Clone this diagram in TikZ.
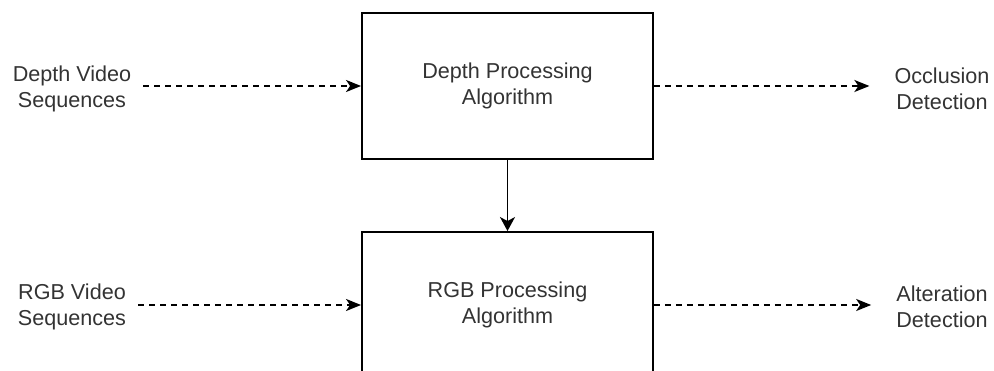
\documentclass[tikz,border=0pt]{standalone}
\usepackage{fontspec}
\setmainfont{Liberation Sans}
\usetikzlibrary{arrows.meta}
\definecolor{txtgray}{rgb}{0.2,0.2,0.2}

\tikzset{
  procbox/.style={draw, line width=1.9pt, minimum width=291pt, minimum height=146pt, align=center, text=txtgray, font=\fontsize{21.6}{25.5}\selectfont},
  txtlabel/.style={align=center, inner xsep=12pt, text=txtgray, font=\fontsize{21.6}{25.5}\selectfont},
  flow/.style={dash pattern=on 6pt off 5pt, line width=1.7pt, -{Stealth[length=15pt,width=12pt,inset=4pt]}},
  feed/.style={line width=1.9pt, -{Stealth[length=14pt,width=15pt,inset=4pt]}}
}

\begin{document}
\begin{tikzpicture}[x=1pt, y=-1pt] % 1 Einheit = 1pt, y nach unten

\useasboundingbox (0,0) rectangle (994,371);

% Verarbeitungsbloecke
\node[procbox] (depth) at (507.5,86) {Depth Processing\\Algorithm};
\node[procbox] (rgb) at (507.5,305) {RGB Processing\\Algorithm};

% Eingaenge links
\node[txtlabel] (depthin) at (72,89) {Depth Video\\Sequences};
\node[txtlabel] (rgbin) at (72,307) {RGB Video\\Sequences};

% Ausgaenge rechts
\node[txtlabel] (occl) at (942,89) {Occlusion\\Detection};
\node[txtlabel] (alter) at (942,307) {Alteration\\Detection};

% Verbindungen
\draw[flow] (depthin.east |- depth.west) -- (depth.west);
\draw[flow] (rgbin.east |- rgb.west) -- (rgb.west);
\draw[flow, shorten >=13pt] (depth.east) -- (occl.west |- depth.east);
\draw[flow, shorten >=13pt] (rgb.east) -- (alter.west |- rgb.east);
\draw[feed] (depth) -- (rgb);

\end{tikzpicture}
\end{document}
